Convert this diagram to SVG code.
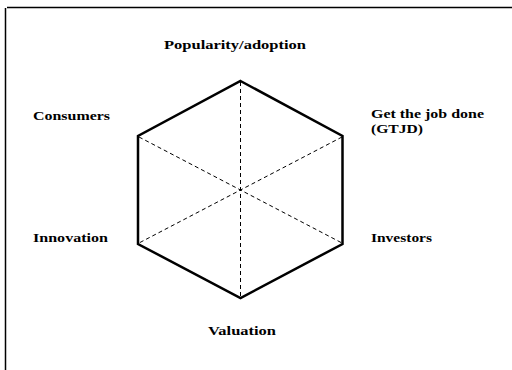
<svg xmlns="http://www.w3.org/2000/svg" width="512" height="370" viewBox="0 0 512 370">
<style>
.lbl{font-family:"Liberation Serif","Times New Roman",serif;font-weight:bold;font-size:13px;fill:#000}
.hex{fill:none;stroke:#000;stroke-width:2.5;stroke-linejoin:miter}
.dash{fill:none;stroke:#000;stroke-width:1;stroke-dasharray:4,3}
.frame{stroke:#000;stroke-width:1.5;fill:none}
</style>
<rect width="512" height="370" fill="#fff"/>
<g id="frame">
<line class="frame" x1="7" y1="7.5" x2="512" y2="7.5"/>
<line class="frame" x1="5.5" y1="8" x2="5.5" y2="370"/>
</g>
<g id="connectors">
<line class="dash" x1="240.5" y1="82" x2="240.5" y2="297"/>
<line class="dash" x1="139" y1="137" x2="342" y2="243"/>
<line class="dash" x1="342" y1="137" x2="139" y2="243"/>
</g>
<g id="hexagon">
<polygon class="hex" points="240.5,81 342.5,136 342.5,244 240.5,298 138,244 138,136"/>
</g>
<g id="popularity"><text class="lbl" x="164" y="49" textLength="142" lengthAdjust="spacingAndGlyphs">Popularity/adoption</text></g>
<g id="consumers"><text class="lbl" x="33" y="120" textLength="77" lengthAdjust="spacingAndGlyphs">Consumers</text></g>
<g id="gtjd"><text class="lbl" x="371" y="118" textLength="113" lengthAdjust="spacingAndGlyphs">Get the job done</text><text class="lbl" x="371" y="133" textLength="52" lengthAdjust="spacingAndGlyphs">(GTJD)</text></g>
<g id="innovation"><text class="lbl" x="33" y="242" textLength="75" lengthAdjust="spacingAndGlyphs">Innovation</text></g>
<g id="investors"><text class="lbl" x="371" y="242" textLength="61" lengthAdjust="spacingAndGlyphs">Investors</text></g>
<g id="valuation"><text class="lbl" x="208" y="335" textLength="68" lengthAdjust="spacingAndGlyphs">Valuation</text></g>
</svg>
